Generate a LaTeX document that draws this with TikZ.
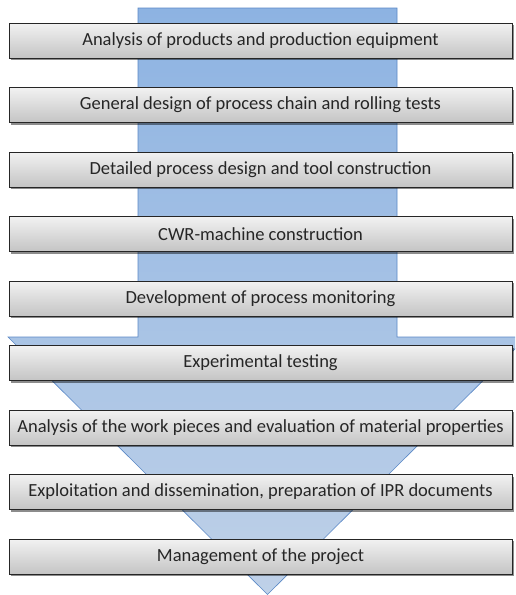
\documentclass[tikz,border=0pt]{standalone}
\usepackage{fontspec}
\setmainfont{Carlito}
\usetikzlibrary{shadows}
\definecolor{arrowtop}{HTML}{8DB3E2}
\definecolor{arrowbot}{HTML}{BFD1E8}
\definecolor{arrowline}{HTML}{5A88C6}
\definecolor{boxtop}{HTML}{F2F2F2}
\definecolor{boxbot}{HTML}{C4C4C4}
\tikzset{
  stagebox/.style={draw=black!85, line width=0.7pt, top color=boxtop, bottom color=boxbot,
    minimum width=503pt, minimum height=35pt, inner sep=0pt, text=black!85,
    font=\fontsize{18.5}{20}\selectfont,
    drop shadow={shadow xshift=2pt, shadow yshift=-2pt, opacity=0.45, fill=black}},
  bigarrow/.style={draw=arrowline, line width=0.6pt, top color=arrowtop, bottom color=arrowbot}
}
\begin{document}
\begin{tikzpicture}[x=1pt,y=1pt]
\useasboundingbox (0,0) rectangle (515,-595);
\begin{scope}
\clip (0,0) rectangle (515,-595);
\path[bigarrow] (138,-8) -- (397,-8) -- (397,-337) -- (527,-337) -- (267.5,-594.5)
  -- (8,-337) -- (138,-337) -- cycle;
\end{scope}
\node[stagebox] (s1) at (260.5,-40.5) {Analysis of products and production equipment};
\node[stagebox] (s2) at (260.5,-105) {General design of process chain and rolling tests};
\node[stagebox] (s3) at (260.5,-169.5) {Detailed process design and tool construction};
\node[stagebox] (s4) at (260.5,-234) {CWR-machine construction};
\node[stagebox] (s5) at (260.5,-298.5) {Development of process monitoring};
\node[stagebox] (s6) at (260.5,-363) {Experimental testing};
\node[stagebox] (s7) at (260.5,-427.5) {Analysis of the work pieces and evaluation of material properties};
\node[stagebox] (s8) at (260.5,-492) {Exploitation and dissemination, preparation of IPR documents};
\node[stagebox] (s9) at (260.5,-556.5) {Management of the project};
\end{tikzpicture}
\end{document}
